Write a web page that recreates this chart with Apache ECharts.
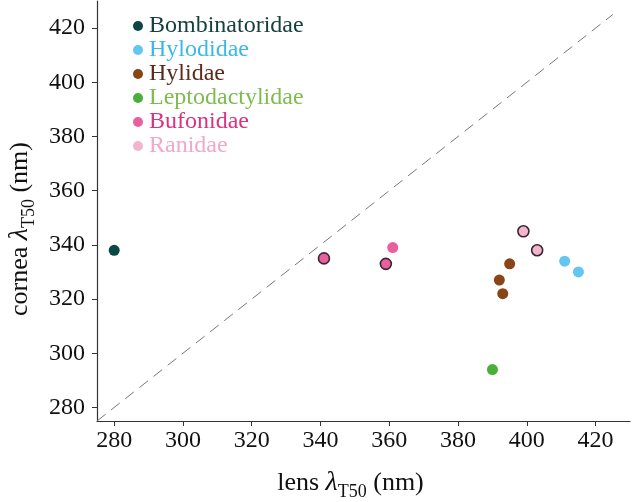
<!DOCTYPE html>
<html><head><meta charset="utf-8">
<script src="https://cdn.jsdelivr.net/npm/echarts@6/dist/echarts.min.js"></script>
<style>html,body{margin:0;padding:0;background:#fff}#c{width:632px;height:502px}</style>
</head><body><div id="c"></div>
<script>
const families = ['Bombinatoridae','Hylodidae','Hylidae','Leptodactylidae','Bufonidae','Ranidae'];
const fillColors = ['#0b4744','#62c6f0','#8a4516','#4aae3a','#ea5f9e','#f3b5ce'];
const textColors = ['#16403d','#3cb8e8','#5b2a1c','#7dbd50','#d9337f','#f1a9c7'];
const lensX = [
  [280],
  [411, 415],
  [395, 392, 393],
  [390],
  [341, 359, 361],
  [399, 403]
];
const corneaY = [
  [338],
  [334, 330],
  [333, 327, 322],
  [294],
  [335, 333, 339],
  [345, 338]
];
const outlined = [
  [false],
  [false, false],
  [false, false, false],
  [false],
  [true, true, false],
  [true, true]
];
const xTicks = [280,300,320,340,360,380,400,420];
const yTicks = [280,300,320,340,360,380,400,420];
const axisMin = 275, axisMax = 430, lineEnd = 425;

const serif = 'Liberation Serif';
const series = families.map((f, i) => ({
  name: f,
  type: 'scatter',
  symbolSize: 11,
  itemStyle: {color: fillColors[i], opacity: 1},
  data: lensX[i].map((x, j) => ({
    value: [x, corneaY[i][j]],
    itemStyle: outlined[i][j] ? {borderColor: '#3b2733', borderWidth: 1.6} : {borderWidth: 0}
  })),
  z: 3
}));
series.push({
  name: 'identity',
  type: 'line',
  data: [[axisMin, axisMin], [lineEnd, lineEnd]],
  symbol: 'none',
  silent: true,
  lineStyle: {color: '#777777', width: 1, type: [11, 7]},
  z: 1
});

const rich = {
  a: {fontFamily: serif, fontSize: 26, color: '#111', verticalAlign: 'middle', lineHeight: 36},
  l: {fontFamily: serif, fontSize: 28, fontStyle: 'italic', color: '#111', verticalAlign: 'middle', lineHeight: 36},
  s: {fontFamily: serif, fontSize: 18, color: '#111', verticalAlign: 'bottom', lineHeight: 36, padding: [13, 0, 0, 0]}
};

const chart = echarts.init(document.getElementById('c'));
chart.setOption({
  animation: false,
  backgroundColor: '#fff',
  grid: {left: 97, right: 2, top: 1, bottom: 81, containLabel: false, outerBoundsMode: 'none'},
  legend: {
    left: 128, top: 9, orient: 'vertical', itemGap: 0,
    icon: 'circle', itemWidth: 10, itemHeight: 10,
    textStyle: {fontFamily: serif, fontSize: 24, lineHeight: 24, padding: [0, 0, 0, 1]},
    data: families.map((f, i) => ({name: f, textStyle: {color: textColors[i]}}))
  },
  xAxis: {
    type: 'value', min: axisMin, max: axisMax,
    axisLine: {onZero: false, lineStyle: {color: '#333', width: 1.2}},
    axisTick: {show: true, length: 5, lineStyle: {color: '#333'}, customValues: xTicks},
    axisLabel: {fontFamily: serif, fontSize: 24, color: '#111', margin: 8, customValues: xTicks},
    splitLine: {show: false},
    name: '{a|lens }{l|λ}{s|T50}{a| (nm)}',
    nameLocation: 'middle', nameGap: 44,
    nameTextStyle: {rich: rich, padding: [0, 26, 0, 0]}
  },
  yAxis: {
    type: 'value', min: axisMin, max: axisMax,
    axisLine: {onZero: false, lineStyle: {color: '#333', width: 1.2}},
    axisTick: {show: true, length: 5, lineStyle: {color: '#333'}, customValues: yTicks},
    axisLabel: {fontFamily: serif, fontSize: 24, color: '#111', margin: 12, customValues: yTicks},
    splitLine: {show: false},
    name: '{a|cornea }{l|λ}{s|T50}{a| (nm)}',
    nameLocation: 'middle', nameGap: 57, nameRotate: 90,
    nameTextStyle: {rich: rich, padding: [0, 36, 0, 0]}
  },
  series: series
});
</script></body></html>
